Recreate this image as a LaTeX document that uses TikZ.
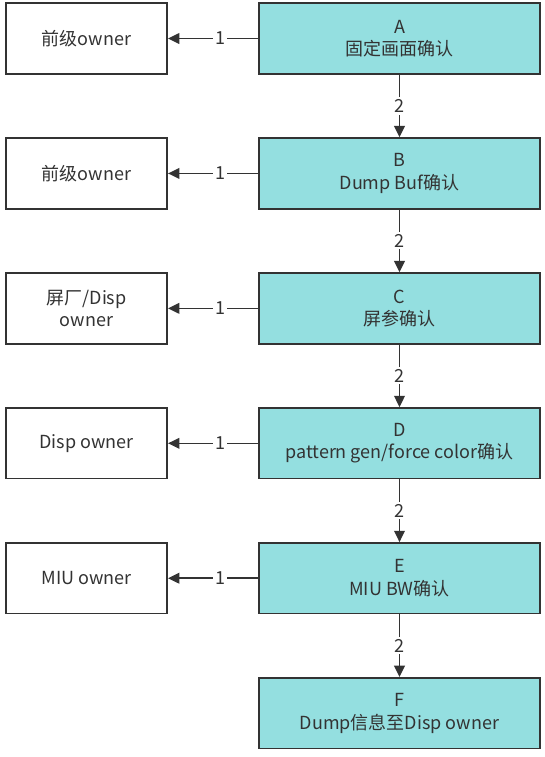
\documentclass[tikz,border=0pt]{standalone}
\usepackage{fontspec}
\setmainfont{Noto Sans CJK SC}
\usetikzlibrary{arrows.meta,positioning}

\definecolor{stepfill}{HTML}{94DFE0}
\definecolor{darkline}{HTML}{333333}

\tikzset{
	check/.style={draw=darkline, line width=1.2pt, fill=stepfill, text=darkline,
		minimum width=211pt, minimum height=53pt, align=center, inner sep=2pt},
	owner/.style={draw=darkline, line width=1.2pt, fill=white, text=darkline,
		minimum width=121pt, minimum height=53pt, align=center, inner sep=2pt},
	num/.style={fill=white, text=darkline, inner sep=1.5pt}
}

\begin{document}
\begin{tikzpicture}[>={Triangle[length=8.5pt,width=8pt]}, node distance=47pt and 67.5pt,
	font=\fontsize{13.5}{17}\selectfont]
	\useasboundingbox (0,0) rectangle (408.75pt,-567.75pt);

	% Checks {A, B, C, D, E, F}
	\node [check] (A) at (299.625pt,-28.875pt) {A\\固定画面确认};
	\node [check] (B) [below=of A] {B\\Dump Buf确认};
	\node [check] (C) [below=of B] {C\\屏参确认};
	\node [check] (D) [below=of C] {D\\pattern gen/force color确认};
	\node [check] (E) [below=of D] {E\\MIU BW确认};
	\node [check] (F) [below=of E] {F\\Dump信息至Disp owner};

	% Owners
	\node [owner] (oA) [left=of A] {前级owner};
	\node [owner] (oB) [left=of B] {前级owner};
	\node [owner] (oC) [left=of C] {屏厂/Disp\\owner};
	\node [owner] (oD) [left=of D] {Disp owner};
	\node [owner] (oE) [left=of E] {MIU owner};

	% Paths
	\foreach \s/\t in {A/oA, B/oB, C/oC, D/oD, E/oE}
		\draw [->, darkline, line width=1.2pt] (\s) -- node [num, pos=0.42] {1} (\t);

	\foreach \s/\t in {A/B, B/C, C/D, D/E, E/F}
		\draw [->, darkline, line width=1.2pt] (\s) -- node [num] {2} (\t);
\end{tikzpicture}
\end{document}
